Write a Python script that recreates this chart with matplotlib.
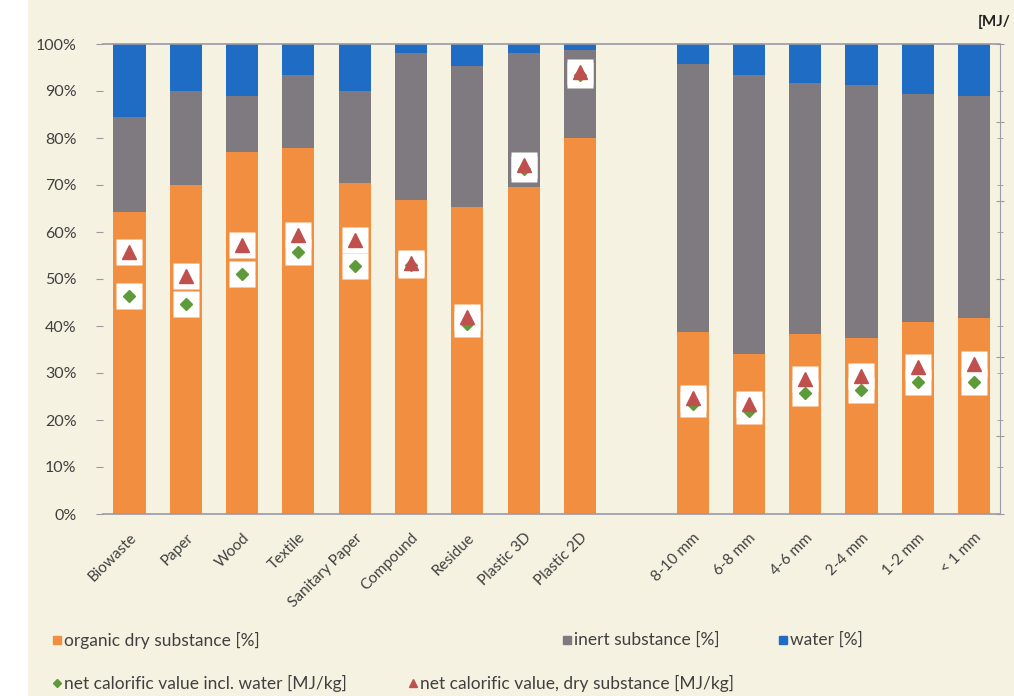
import matplotlib
matplotlib.use('Agg')
import matplotlib.pyplot as plt
from matplotlib.lines import Line2D
from matplotlib.patches import Rectangle
from matplotlib.ticker import MultipleLocator, FuncFormatter
import numpy as np

plt.rcParams['font.family'] = ['Lato', 'DejaVu Sans']

categories = ['Biowaste', 'Paper', 'Wood', 'Textile', 'Sanitary Paper', 'Compound',
              'Residue', 'Plastic 3D', 'Plastic 2D', '',
              '8-10 mm', '6-8 mm', '4-6 mm', '2-4 mm', '1-2 mm', '< 1 mm']
organic = [64.3, 70.0, 77.1, 77.8, 70.4, 66.8, 65.4, 69.6, 79.9, 0,
           38.8, 34.0, 38.4, 37.4, 40.9, 41.8]
inert = [20.1, 19.9, 11.9, 15.6, 19.7, 31.2, 30.0, 28.4, 18.9, 0,
         56.9, 59.4, 53.4, 53.9, 48.4, 47.2]
water = [100 - o - i if o > 0 else 0 for o, i in zip(organic, inert)]

# net calorific values [MJ/kg]
ncv_wet = [13.9, 13.4, 15.3, 16.7, 15.8, 15.9, 12.1, 22.0, 28.0, None,
           7.0, 6.6, 7.7, 7.9, 8.4, 8.4]
ncv_dry = [16.7, 15.2, 17.2, 17.8, 17.5, 16.0, 12.6, 22.3, 28.2, None,
           7.4, 7.0, 8.6, 8.8, 9.4, 9.6]

c_org = '#F28E3F'
c_inert = '#7F7A80'
c_water = '#1E6CC4'
c_green = '#5E9A3A'
c_red = '#C0504D'
bg = '#F6F2E2'

fig = plt.figure(figsize=(10.14, 6.96), dpi=100, facecolor=bg)
fig.patches.append(Rectangle((0, 0), 27 / 1014, 1, transform=fig.transFigure,
                             color='white', zorder=0))
ax = fig.add_axes([103 / 1014, 1 - 514 / 696, (1000 - 103) / 1014, 470 / 696])
ax.set_facecolor('none')

x = np.arange(len(categories))
w = 0.57
ax.bar(x, organic, w, color=c_org)
ax.bar(x, inert, w, bottom=organic, color=c_inert)
ax.bar(x, water, w, bottom=np.array(organic) + np.array(inert), color=c_water)

ax.set_xlim(-0.47, 15.46)
ax.set_ylim(0, 100)
ax.set_yticks(range(0, 101, 10))
ax.yaxis.set_major_formatter(FuncFormatter(lambda v, p: '%d%%' % v))
ax.set_xticks(x)
ax.set_xticklabels(categories, rotation=45, ha='right', rotation_mode='anchor')
ax.tick_params(axis='x', length=0, pad=12, labelsize=11, labelcolor='#404040')
ax.tick_params(axis='y', length=5, color='#9a9a9a', pad=14, labelsize=11.5, labelcolor='#404040')
ax.spines['left'].set_visible(False)
ax.spines['right'].set_visible(False)
for s in ['top', 'bottom']:
    ax.spines[s].set_color('#9a9aa8')
    ax.spines[s].set_linewidth(1.2)

ax2 = ax.twinx()
ax2.set_ylim(0, 30)
ax2.yaxis.set_major_locator(MultipleLocator(5))
ax2.yaxis.set_minor_locator(MultipleLocator(3))
ax2.tick_params(axis='y', which='both', direction='inout', length=6, color='#9a9a9a', labelright=False)
ax2.tick_params(axis='y', which='minor', length=4)
for s in ['top', 'bottom', 'left']:
    ax2.spines[s].set_visible(False)
ax2.spines['right'].set_color('#9a9aa8')

xv = [xi for xi, v in zip(x, ncv_dry) if v is not None]
wet = [v for v in ncv_wet if v is not None]
dry = [v for v in ncv_dry if v is not None]
ax2.plot(xv, wet, 's', ms=19, mfc='white', mec='none', ls='none', zorder=2)
ax2.plot(xv, dry, 's', ms=19, mfc='white', mec='none', ls='none', zorder=2)
ax2.plot(xv, wet, 'D', ms=6.5, color=c_green, ls='none', zorder=3)
ax2.plot(xv, dry, '^', ms=9.5, color=c_red, ls='none', zorder=4)

fig.text(978 / 1014, 1 - 22 / 696, '[MJ/', fontsize=11, fontweight='bold',
         color='#202020', va='center', ha='left')

# legend
leg = [(57, 640, 's', c_org, 6, 'organic dry substance [%]'),
       (567, 640, 's', c_inert, 6, 'inert substance [%]'),
       (783, 640, 's', c_water, 6, 'water [%]'),
       (57, 683, 'D', c_green, 4.5, 'net calorific value incl. water [MJ/kg]'),
       (413, 683, '^', c_red, 6, 'net calorific value, dry substance [MJ/kg]')]
for px, py, m, c, ms, label in leg:
    fx, fy = px / 1014, 1 - py / 696
    fig.add_artist(Line2D([fx], [fy], marker=m, color=c, ms=ms, ls='none',
                          transform=fig.transFigure))
    fig.text(fx + 7 / 1014, fy, label, fontsize=12.5, color='#404040', va='center', ha='left')

fig.savefig('out.png', dpi=100, facecolor=bg)
